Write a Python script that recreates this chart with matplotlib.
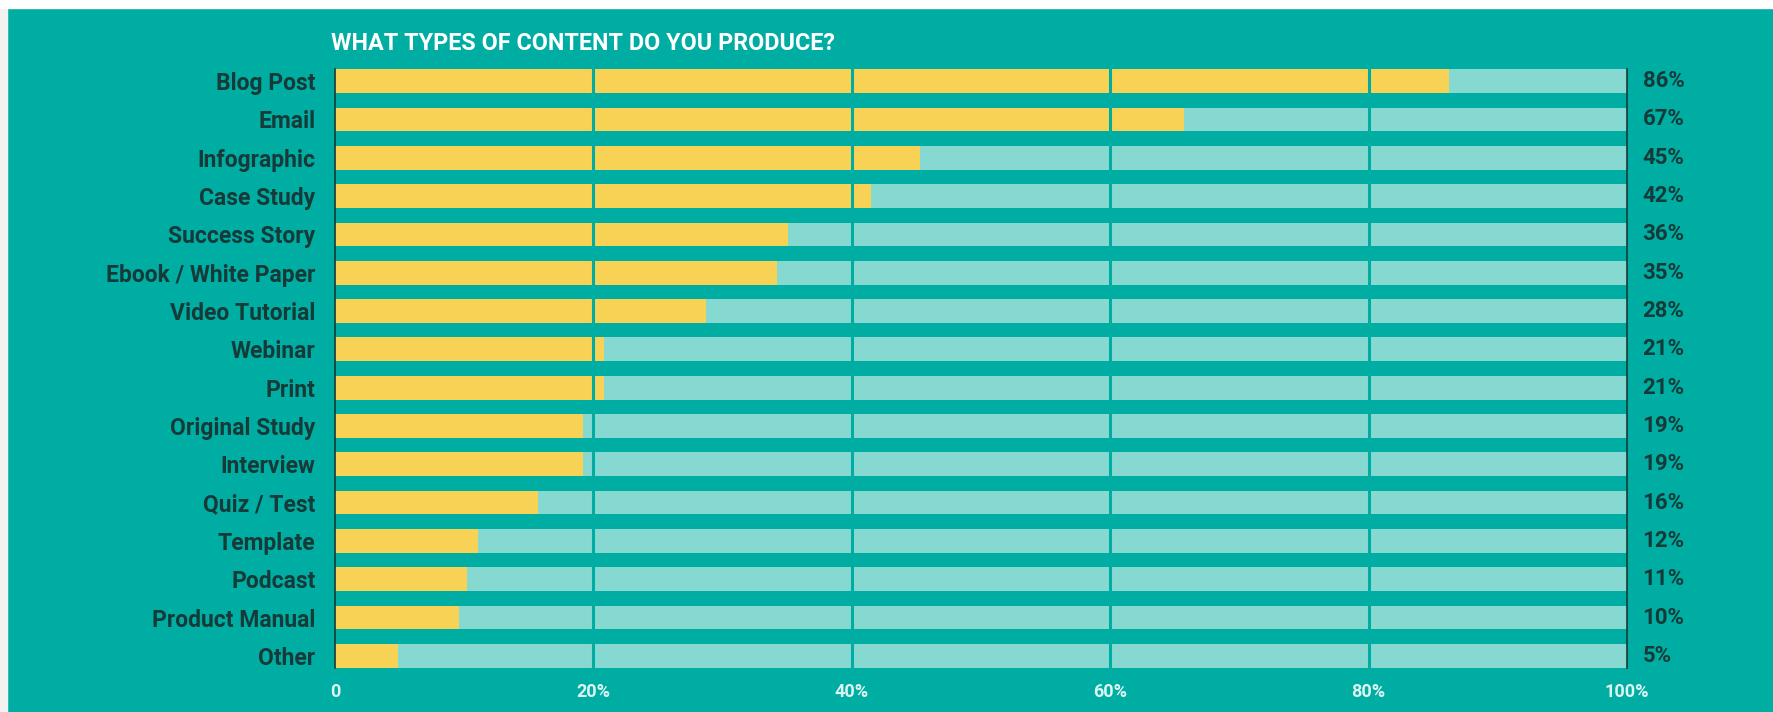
import matplotlib.pyplot as plt
from matplotlib.patches import Rectangle

# data
kategori = ["Blog Post", "Email", "Infographic", "Case Study", "Success Story",
            "Ebook / White Paper", "Video Tutorial", "Webinar", "Print",
            "Original Study", "Interview", "Quiz / Test", "Template", "Podcast",
            "Product Manual", "Other"]
nilai_bar = [86.2, 65.7, 45.3, 41.5, 35.1, 34.2, 28.7, 20.8, 20.8,
             19.2, 19.2, 15.7, 11.1, 10.2, 9.6, 4.9]
label_persen = ["86%", "67%", "45%", "42%", "36%", "35%", "28%", "21%", "21%",
                "19%", "19%", "16%", "12%", "11%", "10%", "5%"]
tick_pos = [0, 20, 40, 60, 80, 100]
tick_label = ["0", "20%", "40%", "60%", "80%", "100%"]
judul = "WHAT TYPES OF CONTENT DO YOU PRODUCE?"

bg = "#00ADA3"
kuning = "#F7D254"
tosca_muda = "#86D9D1"
gelap = "#163A38"

plt.rcParams['font.family'] = ['Roboto', 'DejaVu Sans']

W, H = 1773, 712
fig = plt.figure(figsize=(W / 100, H / 100), dpi=100, facecolor=bg)
ax = fig.add_axes([335 / W, 37 / H, (1627 - 335) / W, (650 - 37) / H])
ax.set_facecolor(bg)

y = list(range(len(kategori)))
tinggi = 0.62
ax.barh(y, [100] * len(y), height=tinggi, color=tosca_muda, zorder=1)
ax.barh(y, nilai_bar, height=tinggi, color=kuning, zorder=2)

# garis grid sebagai celah warna latar
for t in tick_pos[1:-1]:
    ax.axvline(t, color=bg, lw=2.2, zorder=3)

ax.set_xlim(0, 100)
ax.set_ylim(len(y) - 0.5, -0.5)

for s in ["top", "bottom"]:
    ax.spines[s].set_visible(False)
for s in ["left", "right"]:
    ax.spines[s].set_color(gelap)
    ax.spines[s].set_linewidth(1.2)
    ax.spines[s].set_bounds(-tinggi / 2, len(y) - 1 + tinggi / 2)
    ax.spines[s].set_zorder(4)

ax.set_yticks(y)
ax.set_yticklabels(kategori, fontsize=16.5, color=gelap, fontweight='bold')
ax.set_xticks(tick_pos)
ax.set_xticklabels(tick_label, fontsize=13, color="#DDF5F2", fontweight='bold')
ax.tick_params(axis='y', length=0, pad=14)
ax.tick_params(axis='x', length=0, pad=6)

for yi, lab in zip(y, label_persen):
    ax.text(101.2, yi, lab, va='center', ha='left', fontsize=16,
            color=gelap, fontweight='bold')

fig.text(331 / W, 1 - 43 / H, judul, ha='left', va='center', fontsize=16.8,
         color="white", fontweight='bold')

# pinggiran putih dari tangkapan layar
fig.patches.append(Rectangle((0, 0), 7 / W, 1, transform=fig.transFigure,
                             color="#F2F2F2", zorder=10))
fig.patches.append(Rectangle((0, 1 - 8 / H), 1, 8 / H, transform=fig.transFigure,
                             color="white", zorder=10))

plt.savefig("out.png", dpi=100, facecolor=bg)
plt.close()
